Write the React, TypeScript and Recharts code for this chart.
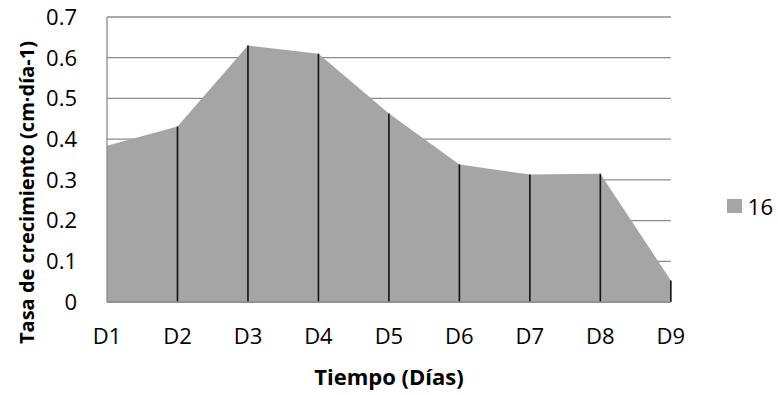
import React from 'react';
import { Area, AreaChart, CartesianGrid, Label, Legend, ReferenceLine, XAxis, YAxis } from 'recharts';

const days = ['D1', 'D2', 'D3', 'D4', 'D5', 'D6', 'D7', 'D8', 'D9'];
const rate16 = [0.384, 0.431, 0.63, 0.61, 0.463, 0.338, 0.313, 0.315, 0.053];
const yTicks = [0, 0.1, 0.2, 0.3, 0.4, 0.5, 0.6, 0.7];

const data = days.map((day, i) => ({ day, v16: rate16[i] }));

const font = '"Open Sans", sans-serif';
const gridColor = '#8c8c8c';
const fillColor = '#a5a5a5';

const LegendBox = ({ payload }: any) => (
  <div style={{ fontFamily: font }}>
    {(payload || []).map((p: any) => (
      <div key={p.value} style={{ display: 'flex', alignItems: 'center', height: 24 }}>
        <span style={{ width: 15, height: 14, background: fillColor, marginRight: 6, display: 'inline-block' }} />
        <span style={{ fontSize: 22, color: '#000', lineHeight: '24px' }}>{p.value}</span>
      </div>
    ))}
  </div>
);

export default function App() {
  return (
    <div style={{ position: 'absolute', left: 0, top: 0, width: 778, height: 395, background: '#fff' }}>
      <AreaChart
        width={778}
        height={395}
        data={data}
        margin={{ top: 17, right: 61, bottom: 0, left: 0 }}
        style={{ fontFamily: font }}
      >
        <CartesianGrid vertical={false} stroke={gridColor} strokeWidth={1.3} />
        <XAxis
          dataKey="day"
          tickLine={false}
          axisLine={{ stroke: gridColor, strokeWidth: 1.3 }}
          tick={{ fill: '#000', fontSize: 22 }}
          tickMargin={20}
          height={93}
        >
          <Label
            content={({ viewBox }: any) => (
              <text
                x={viewBox.x + viewBox.width / 2}
                y={viewBox.y + 83}
                textAnchor="middle"
                style={{ fill: '#000', fontSize: 22, fontWeight: 700, fontFamily: font }}
              >
                Tiempo (Días)
              </text>
            )}
          />
        </XAxis>
        <YAxis
          domain={[0, 0.7]}
          ticks={yTicks}
          interval={0}
          tickLine={false}
          axisLine={{ stroke: gridColor, strokeWidth: 1.3 }}
          tick={{ fill: '#000', fontSize: 22 }}
          tickMargin={24}
          width={107}
        >
          <Label
            content={({ viewBox }: any) => {
              const cx = viewBox.x + 34;
              const cy = viewBox.y + viewBox.height / 2 + 33;
              return (
                <text
                  x={cx}
                  y={cy}
                  transform={`rotate(-90 ${cx} ${cy})`}
                  textAnchor="middle"
                  style={{ fill: '#000', fontSize: 20, fontWeight: 700, fontFamily: font }}
                >
                  Tasa de crecimiento (cm·día-1)
                </text>
              );
            }}
          />
        </YAxis>
        <Area
          type="linear"
          dataKey="v16"
          name="16"
          stroke="none"
          fill={fillColor}
          fillOpacity={1}
          dot={false}
          activeDot={false}
          isAnimationActive={false}
        />
        {data.slice(1).map((d) => (
          <ReferenceLine
            key={d.day}
            segment={[
              { x: d.day, y: 0 },
              { x: d.day, y: d.v16 },
            ]}
            stroke="#111"
            strokeWidth={1.6}
          />
        ))}
        <Legend
          layout="vertical"
          align="right"
          verticalAlign="middle"
          content={<LegendBox />}
          wrapperStyle={{ right: 5, top: 194 }}
        />
      </AreaChart>
    </div>
  );
}
